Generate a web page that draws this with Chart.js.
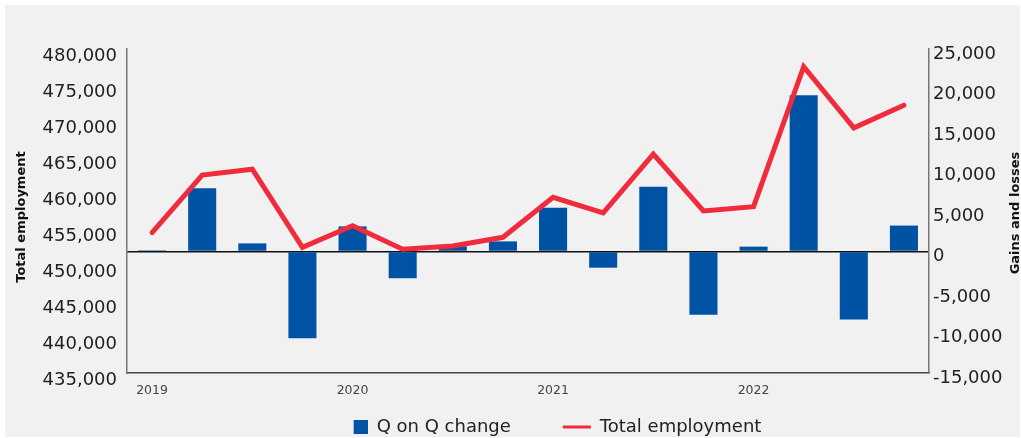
<!DOCTYPE html>
<html>
<head>
<meta charset="utf-8">
<script src="https://cdn.jsdelivr.net/npm/chart.js@4"></script>
<style>
  html, body { margin: 0; padding: 0; background: #ffffff; }
  #wrap { position: absolute; left: 5px; top: 5px; width: 1015px; height: 432px; background: #f1f1f1; }
</style>
</head>
<body>
<div id="wrap"><canvas id="employmentChart"></canvas></div>
<script>
// Quarterly data, 2019 Q1 - 2022 Q4
const quarters = [
    '2019 Q1', '2019 Q2', '2019 Q3', '2019 Q4',
    '2020 Q1', '2020 Q2', '2020 Q3', '2020 Q4',
    '2021 Q1', '2021 Q2', '2021 Q3', '2021 Q4',
    '2022 Q1', '2022 Q2', '2022 Q3', '2022 Q4'
];
const qOnQChange = [150, 7800, 1000, -10700, 3100, -3300, 650, 1250, 5400, -2000, 8000, -7800, 600, 19300, -8400, 3200];
const totalEmployment = [454500, 462500, 463300, 452450, 455450, 452200, 452650, 453850, 459400, 457250, 465400, 457500, 458100, 477550, 469050, 472200];

// tick labels
const employmentTicks = [435000, 440000, 445000, 450000, 455000, 460000, 465000, 470000, 475000, 480000];
const changeTicks = [-15000, -10000, -5000, 0, 5000, 10000, 15000, 20000, 25000];

const BLUE = '#0053a4';
const RED = '#ef2b3c';

Chart.defaults.font.family = "'DejaVu Sans', sans-serif";
Chart.defaults.color = '#222';

// legend swatch for the bars: square sitting at the right of the box
const barSwatch = document.createElement('canvas');
barSwatch.width = 28;
barSwatch.height = 14;
const sctx = barSwatch.getContext('2d');
sctx.fillStyle = BLUE;
sctx.fillRect(14, 0, 14, 14);

// axis titles (right one reads bottom to top, like the left one)
const axisTitles = {
    id: 'axisTitles',
    afterDraw(chart) {
        const ctx = chart.ctx;
        ctx.save();
        ctx.fillStyle = '#111';
        ctx.font = "bold 13px 'DejaVu Sans'";
        ctx.textAlign = 'center';
        ctx.textBaseline = 'middle';
        [['Total employment', 16.5, 212], ['Gains and losses', 1010.5, 208]].forEach(t => {
            ctx.save();
            ctx.translate(t[1], t[2]);
            ctx.rotate(-Math.PI / 2);
            ctx.fillText(t[0], 0, 0);
            ctx.restore();
        });
        ctx.restore();
    }
};

// nudge legend to where it sits in the original (and keep its clip box big enough)
const legendShift = {
    id: 'legendShift',
    afterLayout(chart) {
        const lg = chart.legend;
        if (!lg) return;
        lg.left += 38; lg.right += 38;
        lg.top -= 31;
        lg.bottom = chart.height;
    }
};

const ctx = document.getElementById('employmentChart').getContext('2d');
const employmentChart = new Chart(ctx, {
    data: {
        labels: quarters,
        datasets: [{
            type: 'bar',
            label: 'Q on Q change',
            data: qOnQChange,
            yAxisID: 'y1',
            backgroundColor: BLUE,
            barPercentage: 0.56,
            categoryPercentage: 1,
            order: 1
        }, {
            type: 'line',
            label: 'Total employment',
            data: totalEmployment,
            yAxisID: 'y',
            borderColor: RED,
            backgroundColor: RED,
            borderWidth: 5,
            borderCapStyle: 'round',
            borderJoinStyle: 'miter',
            pointRadius: 0,
            tension: 0,
            fill: false,
            order: 0
        }]
    },
    options: {
        responsive: true,
        maintainAspectRatio: false,
        animation: false,
        layout: { padding: { top: 44, left: 0, right: 0, bottom: 0 } },
        plugins: {
            tooltip: { enabled: false },
            legend: {
                position: 'bottom',
                maxHeight: 40,
                labels: {
                    usePointStyle: true,
                    pointStyleWidth: 28,
                    boxHeight: 14,
                    padding: 52,
                    color: '#222',
                    font: { size: 18 },
                    sort: (a, b) => a.datasetIndex - b.datasetIndex,
                    generateLabels(chart) {
                        const items = Chart.defaults.plugins.legend.labels.generateLabels(chart);
                        items.forEach(it => {
                            if (it.datasetIndex === 0) {
                                it.pointStyle = barSwatch;
                            } else {
                                it.pointStyle = 'line';
                                it.lineWidth = 3;
                                it.strokeStyle = RED;
                            }
                        });
                        return items;
                    }
                }
            }
        },
        scales: {
            x: {
                grid: { display: false, drawTicks: false },
                border: { display: true, color: '#444', width: 1.5 },
                ticks: {
                    autoSkip: false,
                    maxRotation: 0,
                    padding: 10.5,
                    color: '#444',
                    font: { size: 12.5 },
                    callback: (v, i) => quarters[i].endsWith('Q1') ? quarters[i].slice(0, 4) : ''
                },
                afterFit: s => { s.height = 24; }
            },
            y: {
                position: 'left',
                min: employmentTicks[0],
                max: employmentTicks[employmentTicks.length - 1],
                afterBuildTicks: s => { s.ticks = employmentTicks.map(v => ({ value: v })); },
                grid: { display: false, drawTicks: false },
                border: { display: true, color: '#777', width: 1.5 },
                ticks: {
                    padding: 10,
                    labelOffset: 7,
                    color: '#222',
                    font: { size: 18 },
                    callback: v => v.toLocaleString('en-US')
                },
                afterFit: s => { s.width = 122; }
            },
            y1: {
                position: 'right',
                min: changeTicks[0],
                max: changeTicks[changeTicks.length - 1],
                afterBuildTicks: s => { s.ticks = changeTicks.map(v => ({ value: v })); },
                grid: {
                    drawTicks: false,
                    drawOnChartArea: true,
                    color: c => (c.tick && c.tick.value === 0) ? '#111' : 'rgba(0,0,0,0)',
                    lineWidth: 1.5
                },
                border: { display: true, color: '#777', width: 1.5 },
                ticks: {
                    padding: 4,
                    labelOffset: 5,
                    color: '#222',
                    font: { size: 18 },
                    callback: v => v.toLocaleString('en-US')
                },
                afterFit: s => { s.width = 91; }
            }
        }
    },
    plugins: [axisTitles, legendShift]
});
</script>
</body>
</html>
